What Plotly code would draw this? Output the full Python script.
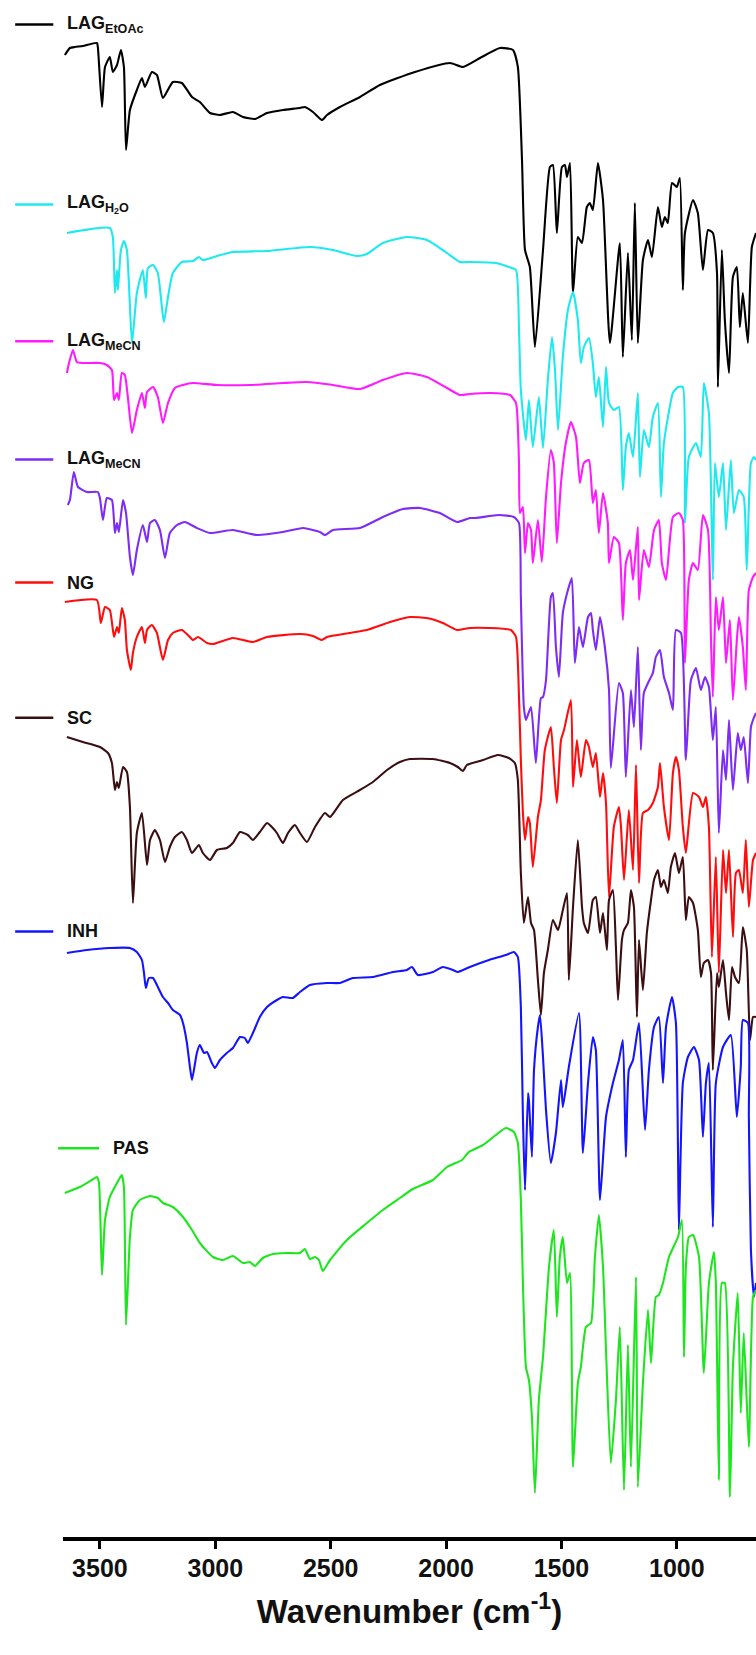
import plotly.graph_objects as go

# Stacked FT-IR spectra: (wavenumber cm-1, offset transmittance a.u.)
LAG_ETOAC = [
    (3652, 1482), (3630, 1489), (3608, 1490), (3574, 1491), (3513, 1494), (3509, 1490),
    (3491, 1430), (3478, 1470), (3457, 1480), (3444, 1465), (3426, 1472), (3409, 1487),
    (3396, 1470), (3387, 1387), (3370, 1427), (3340, 1447), (3318, 1459), (3305, 1450),
    (3275, 1465), (3253, 1462), (3227, 1439), (3184, 1455), (3145, 1454), (3101, 1440),
    (3067, 1435), (3023, 1424), (2980, 1422), (2924, 1425), (2880, 1420), (2828, 1418),
    (2776, 1424), (2707, 1427), (2633, 1429), (2612, 1430), (2577, 1425), (2538, 1417),
    (2516, 1422), (2460, 1430), (2373, 1440), (2287, 1452), (2135, 1465), (1983, 1474),
    (1927, 1470), (1853, 1479), (1767, 1489), (1710, 1487), (1689, 1470), (1671, 1377),
    (1658, 1287), (1637, 1270), (1615, 1190), (1580, 1287), (1550, 1370), (1537, 1372),
    (1520, 1304), (1498, 1370), (1485, 1372), (1476, 1360), (1463, 1374), (1450, 1244),
    (1429, 1300), (1411, 1294), (1390, 1330), (1377, 1334), (1364, 1327), (1342, 1374),
    (1320, 1337), (1290, 1194), (1247, 1294), (1234, 1180), (1212, 1284), (1195, 1197),
    (1182, 1334), (1169, 1194), (1147, 1277), (1125, 1297), (1108, 1280), (1082, 1330),
    (1065, 1310), (1052, 1320), (1039, 1314), (1021, 1354), (1000, 1350), (987, 1359),
    (974, 1247), (965, 1304), (930, 1337), (909, 1324), (887, 1267), (865, 1307),
    (844, 1304), (826, 1264), (822, 1150), (805, 1287), (792, 1217), (774, 1164),
    (757, 1260), (740, 1270), (727, 1210), (714, 1244), (692, 1194), (675, 1290), (657, 1304),
]

LAG_H2O = [
    (3643, 1304), (3457, 1309), (3444, 1300), (3435, 1244), (3426, 1267), (3422, 1247),
    (3409, 1287), (3396, 1296), (3383, 1287), (3361, 1194), (3340, 1244), (3314, 1267),
    (3301, 1239), (3292, 1269), (3270, 1272), (3249, 1264), (3223, 1215), (3205, 1240),
    (3184, 1264), (3145, 1275), (3097, 1276), (3071, 1280), (3054, 1277), (2993, 1281),
    (2924, 1285), (2776, 1286), (2590, 1290), (2490, 1287), (2386, 1281), (2343, 1283),
    (2274, 1294), (2170, 1300), (2083, 1297), (1996, 1284), (1940, 1275), (1897, 1275),
    (1784, 1274), (1728, 1270), (1697, 1267), (1684, 1207), (1676, 1147), (1654, 1097),
    (1641, 1137), (1624, 1090), (1598, 1140), (1580, 1089), (1559, 1157), (1541, 1200),
    (1528, 1167), (1515, 1107), (1494, 1180), (1472, 1227), (1450, 1245), (1429, 1217),
    (1416, 1174), (1403, 1190), (1381, 1199), (1364, 1174), (1351, 1140), (1338, 1160),
    (1320, 1110), (1307, 1170), (1294, 1134), (1273, 1127), (1251, 1130), (1234, 1047),
    (1221, 1090), (1208, 1104), (1190, 1080), (1169, 1144), (1160, 1060), (1143, 1107),
    (1121, 1090), (1104, 1120), (1082, 1134), (1069, 1040), (1056, 1094), (1017, 1144),
    (995, 1150), (974, 1150), (965, 1014), (948, 1080), (917, 1094), (896, 1080),
    (883, 1154), (861, 1124), (844, 957), (835, 1074), (818, 1040), (800, 1074),
    (787, 1007), (766, 1077), (753, 1024), (731, 1047), (710, 1040), (697, 967),
    (679, 1074), (666, 1080), (657, 1077),
]

LAG_MECN_A = [
    (3643, 1164), (3634, 1174), (3617, 1187), (3600, 1175), (3574, 1174), (3500, 1174),
    (3470, 1172), (3448, 1167), (3439, 1137), (3426, 1144), (3418, 1137), (3405, 1164),
    (3392, 1162), (3379, 1140), (3361, 1104), (3340, 1127), (3318, 1144), (3305, 1129),
    (3296, 1145), (3270, 1150), (3249, 1140), (3227, 1114), (3205, 1134), (3175, 1149),
    (3140, 1152), (3097, 1154), (2993, 1152), (2850, 1152), (2707, 1154), (2603, 1155),
    (2490, 1152), (2373, 1148), (2274, 1157), (2170, 1164), (2083, 1160), (1996, 1149),
    (1940, 1142), (1897, 1143), (1810, 1144), (1723, 1142), (1697, 1134), (1684, 1074),
    (1680, 1024), (1667, 1030), (1658, 984), (1645, 1014), (1632, 1007), (1624, 974),
    (1602, 1017), (1585, 975), (1567, 1040), (1546, 1087), (1533, 1074), (1520, 994),
    (1502, 1054), (1481, 1094), (1459, 1115), (1437, 1100), (1420, 1054), (1403, 1074),
    (1381, 1077), (1364, 1034), (1351, 1047), (1338, 1004), (1320, 1044), (1299, 1014),
    (1294, 974), (1273, 1000), (1251, 994), (1234, 917), (1221, 974), (1203, 987),
    (1190, 957), (1169, 1010), (1164, 937), (1143, 987), (1121, 970), (1099, 1007),
    (1078, 1017), (1065, 974), (1047, 957), (1017, 1020), (991, 1024), (974, 1017),
    (965, 874), (948, 957), (930, 974), (909, 967), (887, 1022), (865, 1007),
    (852, 897), (844, 840), (831, 940), (818, 907), (800, 940), (787, 874),
    (770, 917), (757, 837), (740, 897), (731, 920), (714, 890), (701, 847),
    (688, 947), (670, 960), (657, 964),
]

LAG_MECN_B = [
    (3639, 1032), (3630, 1037), (3613, 1065), (3595, 1050), (3556, 1045), (3509, 1045),
    (3500, 1039), (3487, 1017), (3470, 1039), (3448, 1037), (3435, 1004), (3426, 1014),
    (3418, 1005), (3400, 1037), (3387, 1024), (3370, 980), (3357, 962), (3340, 987),
    (3314, 1012), (3296, 995), (3283, 1014), (3262, 1017), (3240, 1007), (3218, 979),
    (3197, 1004), (3166, 1012), (3132, 1015), (3080, 1009), (3023, 1004), (2924, 1007),
    (2820, 1002), (2707, 1005), (2620, 1009), (2547, 1005), (2525, 1002), (2490, 1007),
    (2373, 1009), (2274, 1020), (2187, 1028), (2113, 1029), (2027, 1024), (1953, 1015),
    (1897, 1019), (1871, 1019), (1771, 1022), (1706, 1020), (1684, 1014), (1676, 940),
    (1663, 830), (1654, 817), (1632, 830), (1611, 774), (1589, 839), (1580, 840),
    (1567, 857), (1546, 940), (1537, 944), (1524, 890), (1511, 860), (1494, 924),
    (1472, 947), (1455, 959), (1442, 874), (1424, 910), (1407, 890), (1385, 920),
    (1372, 924), (1364, 907), (1351, 887), (1333, 920), (1312, 890), (1294, 847),
    (1286, 769), (1251, 854), (1234, 844), (1221, 760), (1199, 847), (1186, 810),
    (1169, 890), (1156, 787), (1143, 844), (1125, 854), (1104, 864), (1091, 880),
    (1073, 887), (1056, 860), (1034, 844), (1017, 827), (1004, 907), (982, 904),
    (961, 777), (939, 857), (917, 869), (896, 847), (878, 860), (861, 850),
    (844, 797), (831, 830), (818, 704), (800, 787), (787, 757), (774, 817),
    (757, 747), (736, 804), (723, 787), (710, 800), (692, 754), (679, 810),
    (670, 817), (657, 824),
]

NG = [
    (3652, 935), (3513, 937), (3496, 914), (3478, 930), (3457, 927), (3439, 900),
    (3426, 910), (3418, 904), (3405, 929), (3392, 917), (3383, 887), (3366, 867),
    (3357, 884), (3340, 900), (3318, 910), (3305, 894), (3296, 907), (3275, 912),
    (3253, 904), (3227, 877), (3205, 897), (3184, 904), (3145, 907), (3119, 902),
    (3097, 897), (3075, 900), (3036, 894), (3010, 893), (2924, 899), (2837, 895),
    (2776, 900), (2633, 903), (2577, 901), (2538, 897), (2516, 900), (2417, 904),
    (2343, 907), (2243, 915), (2157, 920), (2083, 919), (2014, 914), (1953, 907),
    (1897, 909), (1814, 909), (1719, 907), (1697, 900), (1684, 840), (1676, 777),
    (1667, 724), (1658, 697), (1645, 720), (1637, 714), (1624, 670), (1602, 720),
    (1589, 737), (1572, 787), (1546, 810), (1533, 770), (1520, 734), (1502, 797),
    (1489, 807), (1459, 837), (1450, 750), (1433, 797), (1416, 760), (1394, 797),
    (1381, 790), (1364, 770), (1351, 784), (1333, 740), (1320, 764), (1307, 734),
    (1294, 640), (1273, 710), (1251, 730), (1242, 710), (1229, 657), (1208, 727),
    (1190, 667), (1177, 772), (1164, 654), (1147, 724), (1125, 727), (1104, 734),
    (1082, 750), (1073, 774), (1056, 730), (1034, 697), (1017, 764), (1004, 780),
    (991, 767), (974, 710), (961, 684), (930, 744), (904, 740), (887, 730),
    (874, 740), (861, 710), (848, 580), (831, 680), (818, 564), (800, 687),
    (787, 644), (774, 687), (757, 600), (744, 664), (731, 667), (714, 644),
    (701, 697), (688, 630), (670, 677), (657, 684),
]

SC = [
    (3643, 800), (3574, 795), (3500, 790), (3465, 784), (3448, 774), (3435, 747),
    (3426, 755), (3418, 749), (3400, 770), (3383, 765), (3370, 730), (3357, 634),
    (3340, 704), (3318, 724), (3296, 672), (3283, 697), (3262, 707), (3240, 697),
    (3218, 675), (3197, 690), (3175, 700), (3145, 705), (3123, 697), (3101, 684),
    (3071, 692), (3054, 684), (3023, 677), (2993, 687), (2950, 689), (2924, 694),
    (2893, 705), (2859, 702), (2837, 697), (2807, 705), (2776, 714), (2755, 710),
    (2733, 704), (2707, 694), (2685, 704), (2655, 712), (2633, 704), (2603, 695),
    (2568, 710), (2525, 724), (2503, 720), (2447, 737), (2373, 747), (2317, 755),
    (2256, 767), (2200, 775), (2157, 778), (2057, 778), (1983, 774), (1949, 770),
    (1927, 766), (1910, 772), (1840, 777), (1775, 782), (1728, 779), (1702, 774),
    (1689, 757), (1676, 664), (1663, 614), (1645, 640), (1632, 614), (1619, 607),
    (1602, 557), (1589, 522), (1576, 564), (1559, 587), (1537, 617), (1515, 607),
    (1494, 627), (1476, 644), (1468, 557), (1450, 630), (1429, 697), (1411, 630),
    (1403, 614), (1385, 604), (1364, 637), (1351, 640), (1333, 604), (1320, 624),
    (1303, 587), (1294, 637), (1277, 647), (1264, 590), (1255, 537), (1238, 597),
    (1229, 607), (1212, 614), (1199, 647), (1186, 630), (1173, 520), (1164, 597),
    (1147, 547), (1130, 604), (1112, 637), (1099, 657), (1082, 667), (1069, 650),
    (1056, 657), (1039, 644), (1026, 670), (1008, 684), (991, 664), (974, 680),
    (961, 617), (948, 640), (930, 634), (909, 607), (896, 560), (883, 574),
    (865, 577), (852, 564), (844, 467), (826, 564), (818, 550), (800, 577),
    (787, 544), (774, 517), (761, 570), (748, 560), (731, 554), (714, 610),
    (697, 587), (683, 497), (670, 520), (657, 520),
]

INH = [
    (3643, 584), (3556, 587), (3457, 589), (3370, 589), (3340, 585), (3318, 577),
    (3309, 564), (3301, 549), (3288, 559), (3270, 559), (3249, 550), (3227, 540),
    (3205, 534), (3184, 527), (3153, 522), (3140, 514), (3123, 494), (3110, 470),
    (3101, 457), (3080, 484), (3067, 492), (3049, 484), (3036, 485), (3015, 474),
    (3002, 469), (2980, 477), (2950, 484), (2924, 489), (2893, 500), (2872, 499),
    (2859, 494), (2837, 504), (2807, 520), (2776, 530), (2733, 537), (2707, 540),
    (2664, 539), (2633, 545), (2590, 552), (2516, 554), (2460, 554), (2404, 559),
    (2317, 560), (2230, 565), (2170, 567), (2148, 570), (2122, 562), (2057, 565),
    (2014, 570), (1970, 567), (1949, 565), (1897, 570), (1814, 577), (1741, 582),
    (1706, 585), (1689, 580), (1676, 530), (1667, 420), (1658, 347), (1645, 444),
    (1641, 437), (1628, 380), (1619, 467), (1602, 510), (1593, 522), (1580, 480),
    (1567, 427), (1546, 374), (1524, 404), (1502, 457), (1494, 430), (1468, 470),
    (1424, 524), (1407, 384), (1385, 454), (1364, 500), (1351, 487), (1333, 337),
    (1307, 420), (1277, 454), (1251, 477), (1234, 497), (1221, 380), (1208, 467),
    (1190, 477), (1164, 514), (1138, 407), (1121, 467), (1099, 510), (1078, 520),
    (1060, 454), (1047, 510), (1021, 540), (1004, 514), (995, 387), (991, 307),
    (974, 454), (952, 480), (926, 490), (904, 477), (887, 400), (874, 454),
    (861, 474), (844, 310), (831, 454), (800, 490), (766, 502), (740, 420),
    (723, 470), (714, 517), (692, 514), (688, 420), (679, 287), (666, 240), (657, 254),
]

PAS = [
    (3652, 344), (3587, 350), (3535, 357), (3513, 360), (3504, 354), (3491, 262),
    (3478, 317), (3457, 340), (3426, 354), (3405, 362), (3396, 350), (3387, 212),
    (3370, 300), (3357, 327), (3327, 337), (3283, 341), (3249, 339), (3227, 334),
    (3184, 330), (3140, 320), (3101, 307), (3067, 294), (3010, 280), (2967, 277),
    (2924, 281), (2880, 274), (2850, 275), (2828, 271), (2794, 279), (2750, 283),
    (2690, 284), (2633, 284), (2612, 288), (2590, 278), (2568, 280), (2551, 277),
    (2534, 266), (2503, 277), (2430, 297), (2343, 314), (2274, 327), (2200, 339),
    (2144, 348), (2057, 357), (1996, 370), (1931, 377), (1901, 385), (1840, 392),
    (1784, 402), (1741, 409), (1706, 405), (1689, 394), (1676, 337), (1667, 254),
    (1654, 170), (1641, 157), (1628, 120), (1615, 44), (1598, 137), (1580, 180),
    (1554, 270), (1533, 307), (1520, 220), (1507, 280), (1494, 300), (1476, 254),
    (1463, 264), (1450, 70), (1429, 154), (1416, 170), (1394, 210), (1372, 214),
    (1355, 280), (1338, 322), (1320, 270), (1307, 187), (1286, 74), (1264, 137),
    (1247, 210), (1229, 47), (1212, 192), (1199, 70), (1177, 260), (1169, 50),
    (1147, 154), (1125, 227), (1112, 174), (1091, 240), (1078, 242), (1060, 254),
    (1034, 280), (995, 300), (978, 317), (969, 180), (961, 270), (948, 300),
    (930, 302), (904, 280), (883, 164), (861, 254), (839, 285), (831, 254),
    (818, 57), (805, 254), (792, 254), (770, 40), (757, 170), (736, 244),
    (723, 124), (710, 204), (688, 90), (670, 240), (657, 247),
]

SPECTRA = [LAG_ETOAC, LAG_H2O, LAG_MECN_A, LAG_MECN_B, NG, SC, INH, PAS]
LABELS = [
    "LAG<sub>EtOAc</sub>", "LAG<sub>H<sub>2</sub>O</sub>", "LAG<sub>MeCN</sub>",
    "LAG<sub>MeCN</sub>", "NG", "SC", "INH", "PAS",
]
COLORS = ["#000000", "#1de9ef", "#ff1aff", "#7d2cf5", "#ff0d0d", "#3b0f12", "#1414ff", "#1ee61e"]

# Legend key placement in paper units (key line start/end, label x, row y)
KEY_ROWS = [
    (-0.069, -0.014, 0.003, 0.984),
    (-0.069, -0.014, 0.003, 0.867),
    (-0.069, -0.014, 0.003, 0.778),
    (-0.069, -0.014, 0.003, 0.701),
    (-0.069, -0.014, 0.003, 0.621),
    (-0.069, -0.014, 0.003, 0.533),
    (-0.069, -0.014, 0.003, 0.394),
    (-0.007, 0.052, 0.069, 0.253),
]

FONT = "Liberation Sans Narrow, Arial Narrow, Liberation Sans, Arial, sans-serif"

fig = go.Figure()
for data, label, color in zip(SPECTRA, LABELS, COLORS):
    wn = [p[0] for p in data]
    t = [p[1] for p in data]
    fig.add_trace(go.Scatter(
        x=wn, y=t, mode="lines", name=label,
        line=dict(color=color, width=2.1, shape="spline", smoothing=0.5),
        showlegend=False, hoverinfo="skip",
    ))

shapes = []
annotations = []
for (x0, x1, xt, yr), label, color in zip(KEY_ROWS, LABELS, COLORS):
    shapes.append(dict(type="line", xref="paper", yref="paper", x0=x0, x1=x1, y0=yr, y1=yr,
                       line=dict(color=color, width=2.5)))
    annotations.append(dict(xref="paper", yref="paper", x=xt, y=yr, text=label,
                            showarrow=False, xanchor="left", yanchor="middle",
                            font=dict(family=FONT, size=18, color="#111111", weight="bold")))

fig.update_layout(
    width=756, height=1655,
    margin=dict(l=63, r=0, t=0, b=118),
    paper_bgcolor="white", plot_bgcolor="white",
    shapes=shapes, annotations=annotations,
    xaxis=dict(
        range=[3660, 657], showgrid=False, zeroline=False,
        showline=True, linecolor="black", linewidth=4,
        ticks="outside", ticklen=8, tickwidth=2.5, tickcolor="black",
        tickvals=[3500, 3000, 2500, 2000, 1500, 1000],
        ticklabelstandoff=-2,
        tickfont=dict(family=FONT, size=25, color="#111111", weight="bold"),
        title=dict(text="Wavenumber (cm<sup>-1</sup>)", standoff=20,
                   font=dict(family=FONT, size=33, color="#111111", weight="bold")),
    ),
    yaxis=dict(range=[0, 1537], visible=False),
)

fig.write_html("out.html")
